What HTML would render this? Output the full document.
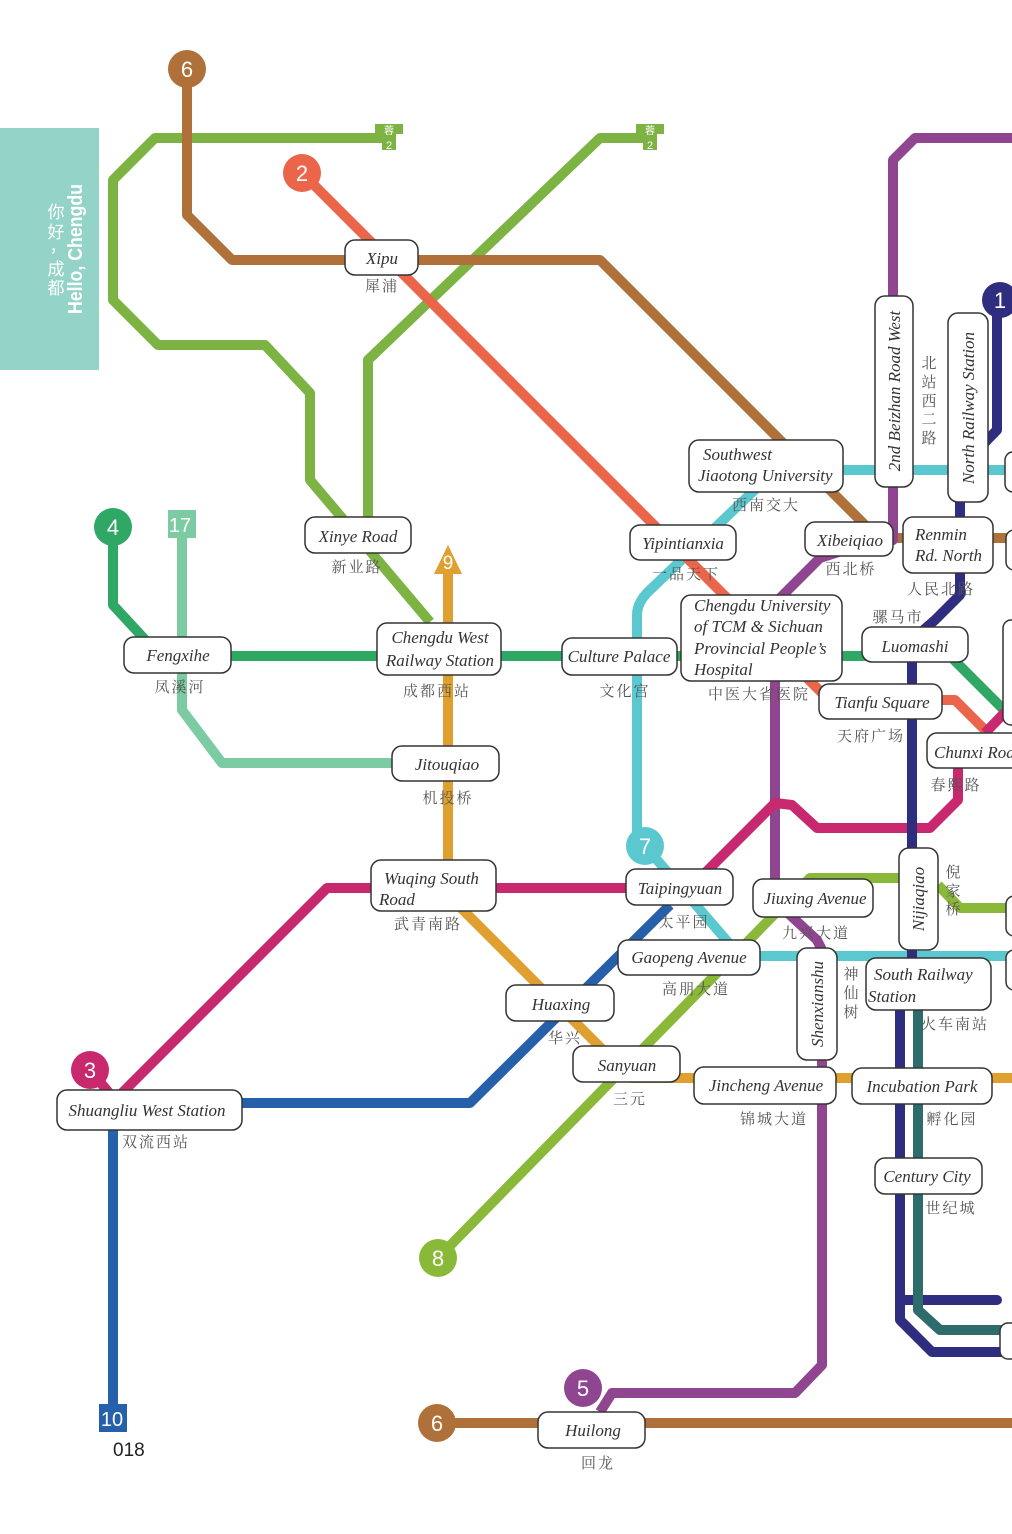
<!DOCTYPE html>
<html><head><meta charset="utf-8"><style>
html,body{margin:0;padding:0;background:#fff;}
svg{display:block;}
.b{fill:#fff;stroke:#333;stroke-width:1.5;}
.n{font-family:"Liberation Serif",serif;font-style:italic;font-size:17px;fill:#333;}
.c{font-family:"Liberation Serif","Noto Serif CJK SC",serif;font-size:15px;fill:#555;letter-spacing:2px;}
.l{fill:none;stroke-width:10;stroke-linejoin:round;}
.ct{font-family:"Liberation Sans",sans-serif;font-size:22px;fill:#fff;text-anchor:middle;}
</style></head><body>
<svg width="1012" height="1534" viewBox="0 0 1012 1534" xmlns="http://www.w3.org/2000/svg">
<rect x="0" y="128" width="99" height="242" fill="#94d3c8"/>
<text transform="translate(82,249) rotate(-90)" text-anchor="middle" textLength="130" lengthAdjust="spacingAndGlyphs" style="font-family:'Liberation Sans',sans-serif;font-weight:bold;font-size:20px;fill:#fff;">Hello, Chengdu</text>
<g style="font-family:'Noto Sans CJK SC',sans-serif;font-size:17px;fill:#fff;" text-anchor="middle">
<text x="56" y="218">你</text><text x="56" y="238">好</text><text x="58" y="252">，</text><text x="56" y="275">成</text><text x="56" y="294">都</text></g>

<!-- lines -->
<path class="l" stroke="#7cb342" d="M388,138 L155,138 L113,180 L113,300 L158,345 L265,345 L310,393 L310,480 L430,622"/>
<path class="l" stroke="#7cb342" d="M650,138 L600,138 L368,360 L368,520"/>
<path class="l" stroke="#b07039" d="M187,69 L187,215 L232,260 L600,260 L878,538 L1012,538"/>
<path class="l" stroke="#b07039" d="M437,1423 L1012,1423"/>
<path class="l" stroke="#8f4590" d="M1012,138 L915,138 L893,160 L893,540 L860,545 L820,558 L775,603 L775,890 L790,915 L817,940 L822,950 L822,1365 L795,1393 L612,1393 L600,1412"/>
<path class="l" stroke="#5bc8d0" d="M765,480 L650,590 Q637,602 637,615 L637,846"/>
<path class="l" stroke="#5bc8d0" d="M645,846 L740,956 L1012,956"/>
<path class="l" stroke="#5bc8d0" d="M843,470 L1012,470"/>
<path class="l" stroke="#ea6549" d="M302,173 L825,696 L942,700 L955,700 L988,733"/>
<path class="l" stroke="#2fa866" d="M113,527 L113,605 L150,645 L178,656 L950,656 L1005,711 L1012,718"/>
<path class="l" stroke="#7ccba2" d="M182,530 L182,710 L222,763 L395,763"/>
<path class="l" stroke="#e0a030" d="M448,570 L448,895 L631,1078 L1012,1078"/>
<path class="l" stroke="#2660ab" d="M113,1418 L113,1103 L470,1103 L670,905"/>
<path class="l" stroke="#8ab93a" d="M438,1258 L810,878 L900,878 M938,885 L960,908 L1012,908"/>
<path class="l" stroke="#c8286e" d="M90,1070 L115,1100 L327,888 L690,888 L775,803 L792,805 L817,828 L930,828 L958,800 L958,768 M985,733 L1012,705"/>
<path class="l" stroke="#2e2d7f" d="M997,300 L997,430 L960,468 L960,595 L935,620 L912,640 L912,960 L900,975 L900,1320 L932,1352 L1012,1352"/>
<path class="l" stroke="#2e2d7f" stroke-linecap="round" d="M900,1300 L997,1300"/>
<path class="l" stroke="#2e6b6b" d="M918,1000 L918,1310 L940,1330 L1012,1330"/>

<!-- markers -->
<g>
<circle cx="187" cy="69" r="19" fill="#b07039"/><text class="ct" x="187" y="77">6</text>
<circle cx="302" cy="173" r="19" fill="#ea6549"/><text class="ct" x="302" y="181">2</text>
<circle cx="113" cy="527" r="19" fill="#2fa866"/><text class="ct" x="113" y="535">4</text>
<circle cx="645" cy="846" r="19" fill="#5bc8d0"/><text class="ct" x="645" y="854">7</text>
<circle cx="90" cy="1070" r="19" fill="#c8286e"/><text class="ct" x="90" y="1078">3</text>
<circle cx="438" cy="1258" r="19" fill="#8ab93a"/><text class="ct" x="438" y="1266">8</text>
<circle cx="583" cy="1388" r="19" fill="#8f4590"/><text class="ct" x="583" y="1396">5</text>
<circle cx="437" cy="1423" r="19" fill="#b07039"/><text class="ct" x="437" y="1431">6</text>
<circle cx="1000" cy="300" r="18" fill="#2e2d7f"/><text class="ct" x="1000" y="308">1</text>
<rect x="168" y="510" width="28" height="28" fill="#7ccba2"/><text class="ct" x="180" y="532" style="font-size:20px">17</text>
<rect x="99" y="1404" width="28" height="28" fill="#2660ab"/><text class="ct" x="112" y="1426" style="font-size:20px">10</text>
<polygon points="448,545 434,574 462,574" fill="#e0a030"/><text class="ct" x="448" y="569" style="font-size:19px">9</text>
<rect x="375" y="124" width="28" height="10" fill="#7cb342"/><rect x="382" y="134" width="14" height="16" fill="#7cb342"/>
<text x="389" y="134" text-anchor="middle" style="font-family:'Noto Sans CJK SC',sans-serif;font-size:10px;fill:#fff">蓉</text><text x="389" y="149" text-anchor="middle" style="font-family:'Liberation Sans',sans-serif;font-size:11px;fill:#fff">2</text>
<rect x="636" y="124" width="28" height="10" fill="#7cb342"/><rect x="643" y="134" width="14" height="16" fill="#7cb342"/>
<text x="650" y="134" text-anchor="middle" style="font-family:'Noto Sans CJK SC',sans-serif;font-size:10px;fill:#fff">蓉</text><text x="650" y="149" text-anchor="middle" style="font-family:'Liberation Sans',sans-serif;font-size:11px;fill:#fff">2</text>
</g>

<!-- boxes -->
<g>
<rect class="b" x="345" y="240" width="73" height="35" rx="10"/><text class="n" x="382" y="264" text-anchor="middle">Xipu</text><text class="c" x="382" y="291" text-anchor="middle">犀浦</text>
<rect class="b" x="689" y="440" width="154" height="52" rx="10"/><text class="n" x="703" y="460">Southwest</text><text class="n" x="698" y="481">Jiaotong University</text><text class="c" x="766" y="510" text-anchor="middle">西南交大</text>
<rect class="b" x="875" y="296" width="38" height="191" rx="10"/><text class="n" transform="translate(900,391) rotate(-90)" text-anchor="middle">2nd Beizhan Road West</text>
<g class="c" text-anchor="middle"><text x="930" y="368">北</text><text x="930" y="387">站</text><text x="930" y="406">西</text><text x="930" y="424">二</text><text x="930" y="443">路</text></g>
<rect class="b" x="948" y="313" width="40" height="189" rx="10"/><text class="n" transform="translate(974,408) rotate(-90)" text-anchor="middle">North Railway Station</text>
<rect class="b" x="1005" y="452" width="20" height="40" rx="8"/>
<rect class="b" x="630" y="525" width="106" height="35" rx="10"/><text class="n" x="683" y="549" text-anchor="middle">Yipintianxia</text><text class="c" x="686" y="579" text-anchor="middle">一品天下</text>
<rect class="b" x="805" y="522" width="88" height="34" rx="10"/><text class="n" x="850" y="546" text-anchor="middle">Xibeiqiao</text><text class="c" x="851" y="574" text-anchor="middle">西北桥</text>
<rect class="b" x="903" y="517" width="90" height="56" rx="10"/><text class="n" x="915" y="540">Renmin</text><text class="n" x="915" y="561">Rd. North</text><text class="c" x="941" y="594" text-anchor="middle">人民北路</text>
<rect class="b" x="1006" y="530" width="20" height="40" rx="8"/>
<rect class="b" x="305" y="517" width="106" height="36" rx="10"/><text class="n" x="358" y="542" text-anchor="middle">Xinye Road</text><text class="c" x="357" y="572" text-anchor="middle">新业路</text>
<rect class="b" x="124" y="637" width="107" height="36" rx="10"/><text class="n" x="178" y="661" text-anchor="middle">Fengxihe</text><text class="c" x="180" y="692" text-anchor="middle">凤溪河</text>
<rect class="b" x="377" y="623" width="124" height="52" rx="10"/><text class="n" x="440" y="643" text-anchor="middle">Chengdu West</text><text class="n" x="440" y="666" text-anchor="middle">Railway Station</text><text class="c" x="437" y="696" text-anchor="middle">成都西站</text>
<rect class="b" x="562" y="638" width="115" height="37" rx="10"/><text class="n" x="619" y="662" text-anchor="middle">Culture Palace</text><text class="c" x="625" y="696" text-anchor="middle">文化宫</text>
<rect class="b" x="681" y="595" width="161" height="86" rx="10"/><text class="n" x="694" y="611">Chengdu University</text><text class="n" x="694" y="632">of TCM &amp; Sichuan</text><text class="n" x="694" y="654">Provincial People’s</text><text class="n" x="694" y="675">Hospital</text><text class="c" x="759" y="699" text-anchor="middle">中医大省医院</text>
<rect class="b" x="862" y="627" width="106" height="35" rx="10"/><text class="n" x="915" y="652" text-anchor="middle">Luomashi</text><text class="c" x="898" y="622" text-anchor="middle">骡马市</text>
<rect class="b" x="1003" y="620" width="20" height="105" rx="8"/>
<rect class="b" x="819" y="684" width="123" height="35" rx="10"/><text class="n" x="882" y="708" text-anchor="middle">Tianfu Square</text><text class="c" x="871" y="741" text-anchor="middle">天府广场</text>
<rect class="b" x="927" y="733" width="100" height="35" rx="10"/><text class="n" x="934" y="758">Chunxi  Road</text><text class="c" x="956" y="790" text-anchor="middle">春熙路</text>
<rect class="b" x="392" y="746" width="107" height="35" rx="10"/><text class="n" x="447" y="770" text-anchor="middle">Jitouqiao</text><text class="c" x="448" y="803" text-anchor="middle">机投桥</text>
<rect class="b" x="371" y="860" width="125" height="51" rx="10"/><text class="n" x="384" y="884">Wuqing South</text><text class="n" x="379" y="905">Road</text><text class="c" x="428" y="929" text-anchor="middle">武青南路</text>
<rect class="b" x="626" y="869" width="107" height="36" rx="10"/><text class="n" x="680" y="894" text-anchor="middle">Taipingyuan</text><text class="c" x="684" y="927" text-anchor="middle">太平园</text>
<rect class="b" x="753" y="879" width="120" height="38" rx="10"/><text class="n" x="815" y="904" text-anchor="middle">Jiuxing Avenue</text><text class="c" x="816" y="938" text-anchor="middle">九兴大道</text>
<rect class="b" x="899" y="848" width="39" height="102" rx="10"/><text class="n" transform="translate(924,899) rotate(-90)" text-anchor="middle">Nijiaqiao</text>
<g class="c" text-anchor="middle"><text x="954" y="877">倪</text><text x="954" y="896">家</text><text x="954" y="914">桥</text></g>
<rect class="b" x="1006" y="896" width="20" height="40" rx="8"/>
<rect class="b" x="618" y="940" width="142" height="35" rx="10"/><text class="n" x="689" y="963" text-anchor="middle">Gaopeng Avenue</text><text class="c" x="696" y="994" text-anchor="middle">高朋大道</text>
<rect class="b" x="797" y="948" width="40" height="112" rx="10"/><text class="n" transform="translate(823,1004) rotate(-90)" text-anchor="middle">Shenxianshu</text>
<g class="c" text-anchor="middle"><text x="852" y="979">神</text><text x="852" y="998">仙</text><text x="852" y="1017">树</text></g>
<rect class="b" x="866" y="958" width="125" height="52" rx="10"/><text class="n" x="874" y="980">South Railway</text><text class="n" x="868" y="1002">Station</text><text class="c" x="955" y="1029" text-anchor="middle">火车南站</text>
<rect class="b" x="1006" y="950" width="20" height="40" rx="8"/>
<rect class="b" x="506" y="985" width="108" height="36" rx="10"/><text class="n" x="561" y="1010" text-anchor="middle">Huaxing</text><text class="c" x="565" y="1043" text-anchor="middle">华兴</text>
<rect class="b" x="573" y="1046" width="107" height="36" rx="10"/><text class="n" x="627" y="1071" text-anchor="middle">Sanyuan</text><text class="c" x="630" y="1104" text-anchor="middle">三元</text>
<rect class="b" x="694" y="1067" width="142" height="37" rx="10"/><text class="n" x="766" y="1091" text-anchor="middle">Jincheng Avenue</text><text class="c" x="774" y="1124" text-anchor="middle">锦城大道</text>
<rect class="b" x="852" y="1068" width="140" height="36" rx="10"/><text class="n" x="922" y="1092" text-anchor="middle">Incubation Park</text><text class="c" x="952" y="1124" text-anchor="middle">孵化园</text>
<rect class="b" x="875" y="1158" width="107" height="36" rx="10"/><text class="n" x="927" y="1182" text-anchor="middle">Century City</text><text class="c" x="951" y="1213" text-anchor="middle">世纪城</text>
<rect class="b" x="1000" y="1323" width="30" height="36" rx="8"/>
<rect class="b" x="57" y="1090" width="185" height="40" rx="10"/><text class="n" x="147" y="1116" text-anchor="middle">Shuangliu West Station</text><text class="c" x="156" y="1147" text-anchor="middle">双流西站</text>
<rect class="b" x="538" y="1412" width="107" height="36" rx="10"/><text class="n" x="593" y="1436" text-anchor="middle">Huilong</text><text class="c" x="598" y="1468" text-anchor="middle">回龙</text>
</g>
<text x="113" y="1456" style="font-family:'Liberation Sans',sans-serif;font-size:19px;fill:#222">018</text>
</svg>
</body></html>
